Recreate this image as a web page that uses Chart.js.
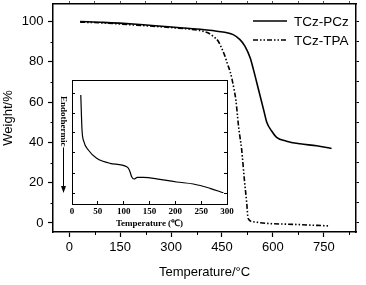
<!DOCTYPE html>
<html>
<head>
<meta charset="utf-8">
<script src="https://cdn.jsdelivr.net/npm/chart.js@4"></script>
<style>
  html, body { margin: 0; padding: 0; background: #fff; }
  #wrap { position: relative; width: 366px; height: 285px; }
  #mainChart { position: absolute; left: 0; top: 0; }
  #insetChart { position: absolute; left: 55px; top: 78px; }
</style>
</head>
<body>
<div id="wrap">
  <canvas id="mainChart" width="366" height="285"></canvas>
  <canvas id="insetChart" width="182" height="152"></canvas>
</div>
<script>
// TGA curves (temperature in °C, weight in %)
const tempPCz = [32, 100, 188, 336, 435, 483, 503, 518, 533, 543, 558, 573, 582, 597, 611, 640, 680, 729, 773];
const weightPCz = [100, 99.6, 98.8, 96.8, 95.2, 93.5, 91, 87.7, 82, 76, 66, 56, 50, 45.5, 42.5, 40.6, 39.3, 38.3, 37];

const tempTPA = [32, 100, 200, 300, 385, 410, 424, 439, 449, 459, 467, 474, 480, 486, 491, 496, 499, 503, 508, 516, 523, 527, 542, 581, 660, 768];
const weightTPA = [99.7, 99.3, 98.2, 97, 95.5, 94.3, 92.7, 90.2, 86.8, 82.7, 78.5, 75.2, 71, 66, 61, 52.7, 47.7, 42.7, 36.5, 21.5, 9.8, 2.3, 0.6, -0.2, -0.7, -1.5];

// DSC inset (temperature in °C, heat flow in arbitrary units)
const dscTemp = [17, 19.4, 23, 31.6, 47.7, 73.5, 106, 111, 115.5, 120, 126.5, 138, 170, 202.6, 234.8, 267, 293];
const dscSignal = [98, 63, 51.3, 43, 34.7, 29.7, 26.3, 23, 16.3, 14, 15.7, 15.7, 13.7, 11, 9, 4.7, 0.3];

const seriesNames = ['TCz-PCz', 'TCz-TPA'];
const xTicks = [0, 150, 300, 450, 600, 750];
const xMinorTicks = [75, 225, 375, 525, 675, 825];
const yTicks = [0, 20, 40, 60, 80, 100];
const yMinorTicks = [10, 30, 50, 70, 90];
const insetXTicks = [0, 50, 100, 150, 200, 250, 300];
const insetYTicks = [0, 20, 40, 60, 80, 100];

const sans = 'Liberation Sans, Arial, sans-serif';
const serif = 'Liberation Serif, Times New Roman, serif';
const tpaDash = [5, 2, 1.5, 2, 1.5, 2];

function toPoints(xs, ys) {
    return xs.map((x, i) => ({ x: x, y: ys[i] }));
}

function setTicks(values) {
    return function(scale) {
        scale.ticks = values.map(v => ({ value: v }));
    };
}

// fix the box size and drop the label overhang padding
function fixSize(w, h) {
    return function(s) {
        if (w !== null) s.width = w;
        if (h !== null) s.height = h;
        s.paddingTop = 0; s.paddingBottom = 0;
        s.paddingLeft = 0; s.paddingRight = 0;
    };
}

// short minor ticks drawn outside the frame
const minorTicks = {
    id: 'minorTicks',
    afterDraw(chart) {
        const ctx = chart.ctx;
        const area = chart.chartArea;
        const x = chart.scales.x, y = chart.scales.y;
        ctx.save();
        ctx.strokeStyle = '#000';
        ctx.lineWidth = 1;
        ctx.beginPath();
        xMinorTicks.forEach(v => {
            const px = Math.round(x.getPixelForValue(v)) + 0.5;
            ctx.moveTo(px, area.bottom);
            ctx.lineTo(px, area.bottom + 3);
        });
        yMinorTicks.forEach(v => {
            const py = Math.round(y.getPixelForValue(v)) + 0.5;
            ctx.moveTo(area.left, py);
            ctx.lineTo(area.left - 2.5, py);
        });
        ctx.stroke();
        ctx.restore();
    }
};

// legend in the top right corner
const lineLegend = {
    id: 'lineLegend',
    afterDraw(chart) {
        const ctx = chart.ctx;
        const rows = [21, 40];
        ctx.save();
        chart.data.datasets.forEach((ds, i) => {
            ctx.strokeStyle = '#000';
            ctx.lineWidth = 1.6;
            ctx.setLineDash(ds.borderDash || []);
            ctx.beginPath();
            ctx.moveTo(253, rows[i]);
            ctx.lineTo(287, rows[i]);
            ctx.stroke();
            ctx.setLineDash([]);
            ctx.fillStyle = '#000';
            ctx.font = '13.5px ' + sans;
            ctx.textBaseline = 'middle';
            ctx.fillText(ds.label, 294, rows[i] + 1);
        });
        ctx.restore();
    }
};

new Chart(document.getElementById('mainChart'), {
    type: 'scatter',
    data: {
        datasets: [
            {
                label: seriesNames[0],
                data: toPoints(tempPCz, weightPCz),
                showLine: true,
                borderColor: '#000',
                borderWidth: 1.6,
                pointRadius: 0,
                cubicInterpolationMode: 'monotone'
            },
            {
                label: seriesNames[1],
                data: toPoints(tempTPA, weightTPA),
                showLine: true,
                borderColor: '#000',
                borderWidth: 1.6,
                borderDash: tpaDash,
                pointRadius: 0,
                cubicInterpolationMode: 'monotone'
            }
        ]
    },
    options: {
        responsive: false,
        animation: false,
        layout: { padding: 0 },
        plugins: { legend: { display: false }, tooltip: { enabled: false } },
        scales: {
            x: {
                type: 'linear', position: 'bottom', min: -48, max: 845,
                afterBuildTicks: setTicks(xTicks),
                ticks: { color: '#000', font: { family: sans, size: 13 }, padding: 3, maxRotation: 0, autoSkip: false },
                grid: { drawOnChartArea: false, tickLength: 5, tickColor: '#000', tickWidth: 1.2 },
                border: { color: '#000', width: 1.5 },
                title: { display: true, text: 'Temperature/°C', color: '#000', font: { family: sans, size: 13 }, padding: { top: 0, bottom: 5 } },
                afterFit: fixSize(null, 53)
            },
            x2: {
                type: 'linear', position: 'top', min: -48, max: 845,
                afterBuildTicks: setTicks(xTicks.concat(xMinorTicks)),
                ticks: { display: false },
                grid: { drawOnChartArea: false, tickLength: 3, tickColor: '#555', tickWidth: 1 },
                border: { color: '#000', width: 1.5 },
                afterFit: fixSize(null, 4)
            },
            y: {
                type: 'linear', position: 'left', min: -4.5, max: 108.7,
                afterBuildTicks: setTicks(yTicks),
                ticks: { color: '#000', font: { family: sans, size: 13 }, padding: 4.5 },
                grid: { drawOnChartArea: false, tickLength: 5, tickColor: '#000', tickWidth: 1.2 },
                border: { color: '#000', width: 1.5 },
                title: { display: true, text: 'Weight/%', color: '#000', font: { family: sans, size: 13 }, padding: { top: 1, bottom: 0 } },
                afterFit: fixSize(53, null)
            },
            y2: {
                type: 'linear', position: 'right', min: -4.5, max: 108.7,
                afterBuildTicks: setTicks(yTicks.concat(yMinorTicks)),
                ticks: { display: false },
                grid: { drawOnChartArea: false, tickLength: 3, tickColor: '#000', tickWidth: 1 },
                border: { color: '#000', width: 1.5 },
                afterFit: fixSize(10, null)
            }
        }
    },
    plugins: [minorTicks, lineLegend]
});

// rotated "Endothermic" label with a downward arrow
const endoLabel = {
    id: 'endoLabel',
    afterDraw(chart) {
        const ctx = chart.ctx;
        const cx = 8.5, top = 18, arrowEnd = 115;
        ctx.save();
        ctx.fillStyle = '#000';
        ctx.font = 'bold 9px ' + serif;
        const w = ctx.measureText('Endothermic').width;
        ctx.translate(cx, top);
        ctx.rotate(Math.PI / 2);
        ctx.textBaseline = 'middle';
        ctx.fillText('Endothermic', 0, 0);
        ctx.restore();
        ctx.save();
        ctx.strokeStyle = '#000';
        ctx.fillStyle = '#000';
        ctx.lineWidth = 1;
        ctx.beginPath();
        ctx.moveTo(cx, top + w + 1);
        ctx.lineTo(cx, arrowEnd - 5);
        ctx.stroke();
        ctx.beginPath();
        ctx.moveTo(cx - 2.5, arrowEnd - 7);
        ctx.lineTo(cx + 2.5, arrowEnd - 7);
        ctx.lineTo(cx, arrowEnd);
        ctx.closePath();
        ctx.fill();
        ctx.restore();
    }
};

new Chart(document.getElementById('insetChart'), {
    type: 'scatter',
    data: {
        datasets: [{
            data: toPoints(dscTemp, dscSignal),
            showLine: true,
            borderColor: '#000',
            borderWidth: 1.2,
            pointRadius: 0,
            cubicInterpolationMode: 'monotone'
        }]
    },
    options: {
        responsive: false,
        animation: false,
        layout: { padding: 0 },
        plugins: { legend: { display: false }, tooltip: { enabled: false } },
        scales: {
            x: {
                type: 'linear', position: 'bottom', min: 0, max: 300,
                afterBuildTicks: setTicks(insetXTicks),
                ticks: { color: '#000', font: { family: serif, size: 9, weight: 'bold' }, padding: 5, maxRotation: 0, autoSkip: false },
                grid: { drawOnChartArea: false, tickLength: -3, tickColor: '#000', tickWidth: 1 },
                border: { color: '#000', width: 1 },
                title: { display: true, text: 'Temperature (℃)', color: '#000', font: { family: serif, size: 9, weight: 'bold' }, padding: { top: 0, bottom: 1 } },
                afterFit: fixSize(null, 26)
            },
            x2: {
                type: 'linear', position: 'top', min: 0, max: 300,
                ticks: { display: false },
                grid: { drawOnChartArea: false, drawTicks: false },
                border: { color: '#000', width: 1 },
                afterFit: fixSize(null, 2)
            },
            y: {
                type: 'linear', position: 'left', min: -11, max: 113,
                afterBuildTicks: setTicks(insetYTicks),
                ticks: { display: false },
                grid: { drawOnChartArea: false, tickLength: -3, tickColor: '#000', tickWidth: 1 },
                border: { color: '#000', width: 1 },
                afterFit: fixSize(17, null)
            },
            y2: {
                type: 'linear', position: 'right', min: -11, max: 113,
                afterBuildTicks: setTicks(insetYTicks),
                ticks: { display: false },
                grid: { drawOnChartArea: false, tickLength: -3, tickColor: '#000', tickWidth: 1 },
                border: { color: '#000', width: 1 },
                afterFit: fixSize(10, null)
            }
        }
    },
    plugins: [endoLabel]
});
</script>
</body>
</html>
